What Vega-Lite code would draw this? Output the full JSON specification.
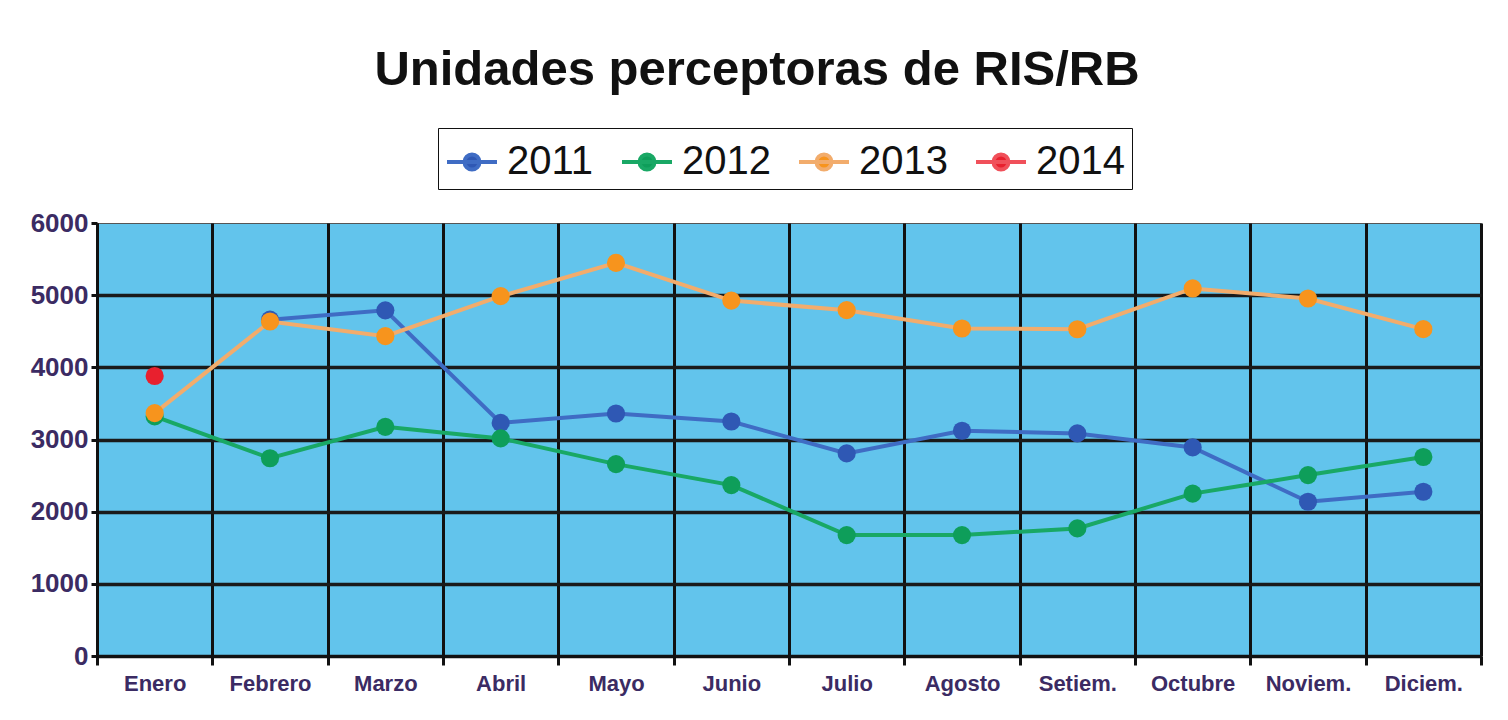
{
  "$schema": "https://vega.github.io/schema/vega-lite/v6.json",
  "width": 1384,
  "height": 433,
  "autosize": {"type": "none"},
  "padding": {"left": 97, "top": 223, "right": 27, "bottom": 64},
  "background": "white",
  "title": {"text": "Unidades perceptoras de RIS/RB", "font": "Liberation Sans", "fontSize": 49, "fontWeight": "bold", "color": "#111111", "anchor": "middle", "dx": -32, "offset": 33},
  "data": {"values": [
    {"mes": "Febrero", "anio": "2011", "v": 4660},
    {"mes": "Marzo", "anio": "2011", "v": 4790},
    {"mes": "Abril", "anio": "2011", "v": 3230},
    {"mes": "Mayo", "anio": "2011", "v": 3360},
    {"mes": "Junio", "anio": "2011", "v": 3250},
    {"mes": "Julio", "anio": "2011", "v": 2807},
    {"mes": "Agosto", "anio": "2011", "v": 3121},
    {"mes": "Setiem.", "anio": "2011", "v": 3084},
    {"mes": "Octubre", "anio": "2011", "v": 2890},
    {"mes": "Noviem.", "anio": "2011", "v": 2137},
    {"mes": "Diciem.", "anio": "2011", "v": 2276},
    {"mes": "Enero", "anio": "2012", "v": 3320},
    {"mes": "Febrero", "anio": "2012", "v": 2740},
    {"mes": "Marzo", "anio": "2012", "v": 3176},
    {"mes": "Abril", "anio": "2012", "v": 3015},
    {"mes": "Mayo", "anio": "2012", "v": 2659},
    {"mes": "Junio", "anio": "2012", "v": 2368},
    {"mes": "Julio", "anio": "2012", "v": 1676},
    {"mes": "Agosto", "anio": "2012", "v": 1676},
    {"mes": "Setiem.", "anio": "2012", "v": 1768},
    {"mes": "Octubre", "anio": "2012", "v": 2250},
    {"mes": "Noviem.", "anio": "2012", "v": 2507},
    {"mes": "Diciem.", "anio": "2012", "v": 2758},
    {"mes": "Enero", "anio": "2013", "v": 3366},
    {"mes": "Febrero", "anio": "2013", "v": 4635},
    {"mes": "Marzo", "anio": "2013", "v": 4432},
    {"mes": "Abril", "anio": "2013", "v": 4986},
    {"mes": "Mayo", "anio": "2013", "v": 5447},
    {"mes": "Junio", "anio": "2013", "v": 4925},
    {"mes": "Julio", "anio": "2013", "v": 4792},
    {"mes": "Agosto", "anio": "2013", "v": 4538},
    {"mes": "Setiem.", "anio": "2013", "v": 4528},
    {"mes": "Octubre", "anio": "2013", "v": 5093},
    {"mes": "Noviem.", "anio": "2013", "v": 4954},
    {"mes": "Diciem.", "anio": "2013", "v": 4529},
    {"mes": "Enero", "anio": "2014", "v": 3880}
  ]},
  "encoding": {
    "x": {
      "field": "mes", "type": "nominal",
      "sort": ["Enero", "Febrero", "Marzo", "Abril", "Mayo", "Junio", "Julio", "Agosto", "Setiem.", "Octubre", "Noviem.", "Diciem."],
      "scale": {"type": "band", "paddingInner": 0, "paddingOuter": 0},
      "axis": {
        "title": null, "labelAngle": 0, "tickBand": "extent", "grid": true,
        "gridColor": "#111111", "gridWidth": 3, "gridOpacity": 1,
        "tickSize": 9, "tickWidth": 3, "tickColor": "#111111",
        "domainColor": "#111111", "domainWidth": 3,
        "labelPadding": 8, "labelFontSize": 22, "labelFont": "Liberation Sans",
        "labelFontWeight": "bold", "labelColor": "#3B2B63"
      }
    },
    "y": {
      "field": "v", "type": "quantitative",
      "scale": {"domain": [0, 6000], "nice": false},
      "axis": {
        "title": null, "values": [0, 1000, 2000, 3000, 4000, 5000, 6000], "format": "d",
        "grid": true, "gridColor": "#1a1a1a", "gridWidth": 3.5,
        "gridOpacity": {"condition": {"test": "datum.value === 6000", "value": 0}, "value": 1},
        "tickSize": 6, "tickWidth": 3, "tickColor": "#111111",
        "domainColor": "#111111", "domainWidth": 3,
        "labelPadding": 3, "labelFontSize": 26, "labelFont": "Liberation Sans",
        "labelFontWeight": "bold", "labelColor": "#3B2B63"
      }
    }
  },
  "layer": [
    {
      "mark": {"type": "line", "strokeWidth": 4},
      "encoding": {
        "stroke": {"field": "anio", "type": "nominal",
          "scale": {"domain": ["2011", "2012", "2013", "2014"], "range": ["#3F6CC4", "#19A865", "#F2AC6C", "#F0505A"]},
          "legend": {"title": null, "orient": "none", "legendX": 341, "legendY": -95, "direction": "horizontal"}}
      }
    },
    {
      "mark": {"type": "point", "filled": true, "size": 330, "opacity": 1},
      "encoding": {
        "color": {"field": "anio", "type": "nominal",
          "scale": {"domain": ["2011", "2012", "2013", "2014"], "range": ["#2F58B4", "#0E9E5A", "#F7941D", "#E8202E"]},
          "legend": {"title": null, "orient": "none", "legendX": 341, "legendY": -95, "direction": "horizontal"}}
      }
    }
  ],
  "config": {
    "view": {"fill": "#62C4EC", "stroke": "#555555", "strokeWidth": 1},
    "legend": {
      "strokeColor": "#111111", "padding": 7,
      "symbolType": "M-1,0H1M-0.3,0A0.3,0.3 0 1,0 0.3,0A0.3,0.3 0 1,0 -0.3,0Z",
      "symbolSize": 2500, "symbolStrokeWidth": 4,
      "labelFontSize": 40, "labelFont": "Liberation Sans", "labelColor": "#111111",
      "labelOffset": 8, "columnPadding": 20, "labelLimit": 300
    }
  }
}
